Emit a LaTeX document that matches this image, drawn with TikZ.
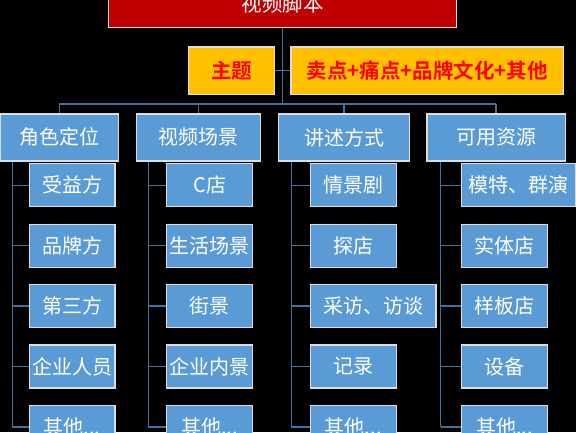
\documentclass[tikz,border=0pt]{standalone}
\usepackage{fontspec}
\setmainfont{Noto Sans CJK SC}
\newfontfamily\cjkb{Noto Sans CJK SC Bold}
\definecolor{bluefill}{HTML}{5B9BD5}
\definecolor{linecol}{HTML}{41719C}
\definecolor{redfill}{HTML}{C00000}
\definecolor{yelfill}{HTML}{FFC000}
\definecolor{bordcol}{HTML}{DDDDDD}
\begin{document}
\begin{tikzpicture}[x=1pt,y=-1pt,
  boxbase/.style={draw=bordcol,line width=1.3pt,inner sep=0pt,anchor=center,
    font=\fontsize{20}{23}\selectfont},
  bluebox/.style={boxbase,fill=bluefill,text=white},
  catbox/.style={bluebox,minimum height=47pt},
  leafbox/.style={bluebox,minimum height=43pt},
  yelbox/.style={boxbase,fill=yelfill,text=red,minimum height=47.4pt,font=\fontsize{20.5}{23}\selectfont\cjkb},
  redbox/.style={boxbase,fill=redfill,text=white,minimum height=47.6pt,font=\fontsize{20.5}{23}\selectfont},
  conn/.style={draw=linecol,line width=1.3pt}]
\fill[black] (0,0) rectangle (576,432);
\useasboundingbox (0,0) rectangle (576,432);

\node[redbox,minimum width=348pt] (top) at (282.5,3.8) {视频脚本};
\node[yelbox,minimum width=86pt] (t1) at (231.5,70.7) {主题};
\node[yelbox,minimum width=272.5pt] (t2) at (427.3,70.7) {卖点+痛点+品牌文化+其他};

\node[catbox,minimum width=117.8pt] (c1) at (59.4,137.4) {角色定位};
\node[catbox,minimum width=124.2pt] (c2) at (198.4,137.4) {视频场景};
\node[catbox,minimum width=131pt] (c3) at (344,137.4) {讲述方式};
\node[catbox,minimum width=138.5pt] (c4) at (496.1,137.4) {可用资源};

% column 1
\node[leafbox,minimum width=85.7pt] (a1) at (72.2,185.3) {受益方};
\node[leafbox,minimum width=85.7pt] (a2) at (72.2,245.7) {品牌方};
\node[leafbox,minimum width=85.7pt] (a3) at (72.2,306.1) {第三方};
\node[leafbox,minimum width=85.7pt] (a4) at (72.2,366.5) {企业人员};
\node[leafbox,minimum width=85.7pt] (a5) at (72.2,426.9) {其他...};
% column 2
\node[leafbox,minimum width=86pt] (b1) at (209.7,185.3) {C店};
\node[leafbox,minimum width=86pt] (b2) at (209.7,245.7) {生活场景};
\node[leafbox,minimum width=86pt] (b3) at (209.7,306.1) {街景};
\node[leafbox,minimum width=86pt] (b4) at (209.7,366.5) {企业内景};
\node[leafbox,minimum width=86pt] (b5) at (209.7,426.9) {其他...};
% column 3
\node[leafbox,minimum width=86pt] (d1) at (353.3,185.3) {情景剧};
\node[leafbox,minimum width=86pt] (d2) at (353.3,245.7) {探店};
\node[leafbox,minimum width=125.7pt] (d3) at (373.2,306.1) {采访、访谈};
\node[leafbox,minimum width=86pt] (d4) at (353.3,366.5) {记录};
\node[leafbox,minimum width=86pt] (d5) at (353.3,426.9) {其他...};
% column 4
\node[leafbox,minimum width=113.6pt] (e1) at (518.5,185.3) {模特、群演};
\node[leafbox,minimum width=86pt] (e2) at (504.7,245.7) {实体店};
\node[leafbox,minimum width=86pt] (e3) at (504.7,306.1) {样板店};
\node[leafbox,minimum width=86pt] (e4) at (504.7,366.5) {设备};
\node[leafbox,minimum width=86pt] (e5) at (504.7,426.9) {其他...};

% trunk and bus
\coordinate (bus) at (282.7,104);
\coordinate (sa) at (12.3,0);
\coordinate (sb) at (148.4,0);
\coordinate (sd) at (291.3,0);
\coordinate (se) at (440.8,0);
\draw[conn] (top.south -| bus) -- (bus);
\draw[conn] (t1.east) -- (t2.west);
\draw[conn] (c1.north |- bus) -- (c4.north |- bus);
\foreach \c in {c1,c2,c3,c4} \draw[conn] (\c.north |- bus) -- (\c.north);
\draw[conn] (c1.south -| sa) -- (a5.west -| sa);
\draw[conn] (c2.south -| sb) -- (b5.west -| sb);
\draw[conn] (c3.south -| sd) -- (d5.west -| sd);
\draw[conn] (c4.south -| se) -- (e5.west -| se);
\foreach \n in {a1,a2,a3,a4,a5} \draw[conn] (\n.west -| sa) -- (\n.west);
\foreach \n in {b1,b2,b3,b4,b5} \draw[conn] (\n.west -| sb) -- (\n.west);
\foreach \n in {d1,d2,d3,d4,d5} \draw[conn] (\n.west -| sd) -- (\n.west);
\foreach \n in {e1,e2,e3,e4,e5} \draw[conn] (\n.west -| se) -- (\n.west);
\end{tikzpicture}
\end{document}
